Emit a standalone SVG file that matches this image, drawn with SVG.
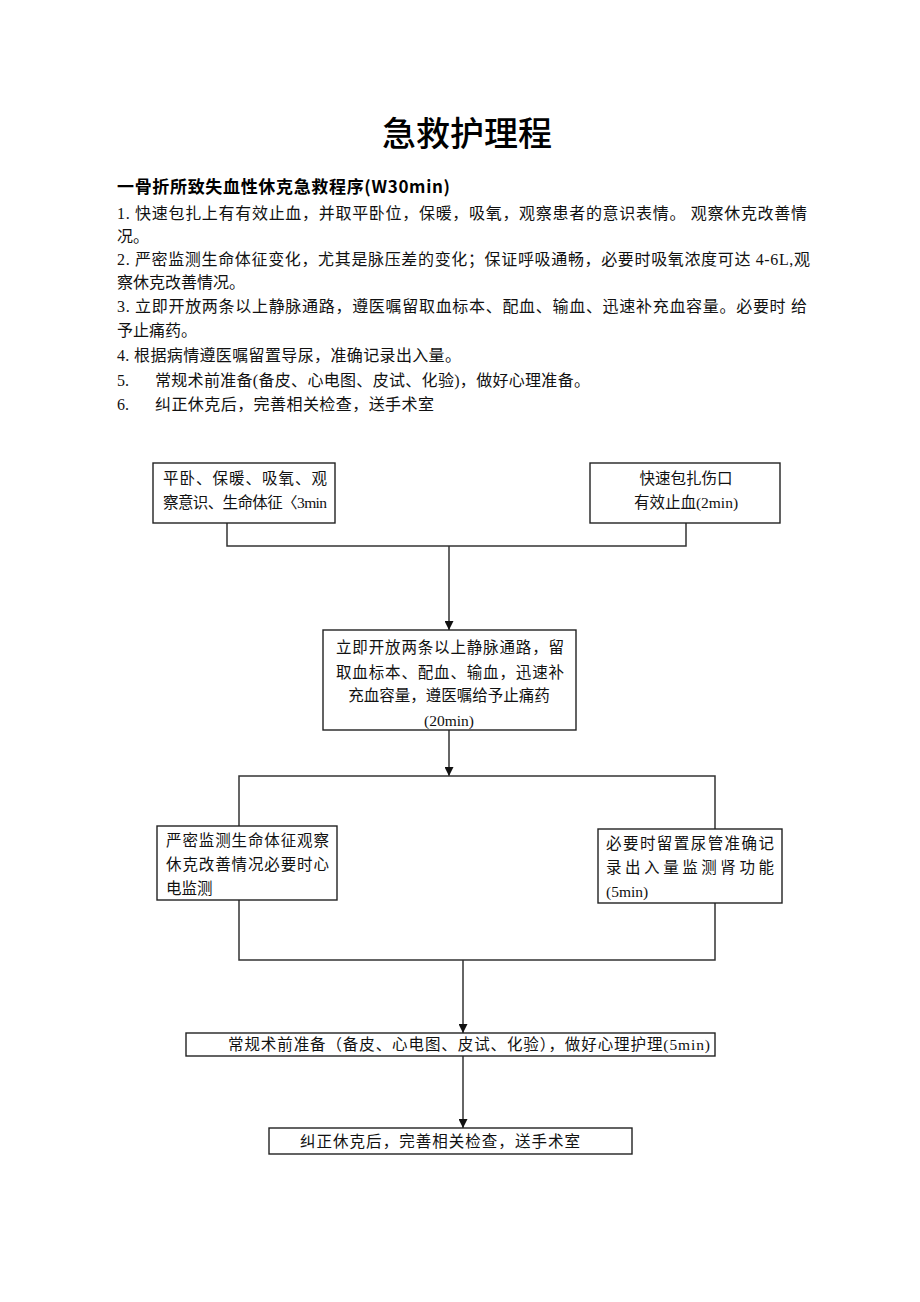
<svg xmlns="http://www.w3.org/2000/svg" width="920" height="1302" viewBox="0 0 920 1302">
<defs>
<style>
.t{font-family:"Liberation Serif","Noto Sans CJK SC",serif;font-size:16px;fill:#111}
.b{font-family:"Liberation Serif","Noto Sans CJK SC",serif;font-size:15.5px;fill:#111}
.box{fill:#fff;stroke:#222;stroke-width:1.4}
.ln{fill:none;stroke:#333;stroke-width:1.5}
</style>
<marker id="ah" viewBox="0 0 10 10" refX="10" refY="5" markerWidth="9" markerHeight="9" markerUnits="userSpaceOnUse" orient="auto">
<path d="M0,0 L10,5 L0,10 z" fill="#111"/>
</marker>
</defs>
<rect width="920" height="1302" fill="#fff"/>
<text x="467" y="146" text-anchor="middle" style="font-family:'Noto Sans CJK SC',sans-serif;font-size:34px;font-weight:500" fill="#000">急救护理程</text>
<text x="117" y="193" textLength="333" style="font-family:'Noto Sans CJK SC',sans-serif;font-size:17px;font-weight:bold" fill="#000">一骨折所致失血性休克急救程序(W30min)</text>
<g id="body">
<text class="t" x="117" y="219" textLength="690">1. 快速包扎上有有效止血，并取平卧位，保暖，吸氧，观察患者的意识表情。 观察休克改善情</text>
<text class="t" x="117" y="242">况。</text>
<text class="t" x="117" y="265" textLength="693">2. 严密监测生命体征变化，尤其是脉压差的变化；保证呼吸通畅，必要时吸氧浓度可达 4-6L,观</text>
<text class="t" x="117" y="288">察休克改善情况。</text>
<text class="t" x="117" y="312" textLength="690">3. 立即开放两条以上静脉通路，遵医嘱留取血标本、配血、输血、迅速补充血容量。必要时 给</text>
<text class="t" x="117" y="336">予止痛药。</text>
<text class="t" x="117" y="361" textLength="344">4. 根据病情遵医嘱留置导尿，准确记录出入量。</text>
<text class="t" x="117" y="386">5.</text>
<text class="t" x="155" y="386" textLength="435">常规术前准备(备皮、心电图、皮试、化验)，做好心理准备。</text>
<text class="t" x="117" y="410">6.</text>
<text class="t" x="155" y="410" textLength="279">纠正休克后，完善相关检查，送手术室</text>
</g>
<g id="connectors">
<polyline class="ln" points="227,523 227,546 686,546 686,523"/>
<line class="ln" x1="449" y1="546" x2="449" y2="630" marker-end="url(#ah)"/>
<line class="ln" x1="449" y1="730" x2="449" y2="776" marker-end="url(#ah)"/>
<polyline class="ln" points="239,826 239,776 715,776 715,829"/>
<polyline class="ln" points="239,900 239,960 715,960 715,903"/>
<line class="ln" x1="463" y1="960" x2="463" y2="1033" marker-end="url(#ah)"/>
<line class="ln" x1="463" y1="1056" x2="463" y2="1128" marker-end="url(#ah)"/>
</g>
<g id="n1">
<rect class="box" x="153" y="463" width="182" height="60"/>
<text class="b" x="163" y="484" textLength="164">平卧、保暖、吸氧、观</text>
<text class="b" x="163" y="508" textLength="164">察意识、生命体征〈3min</text>
</g>
<g id="n2">
<rect class="box" x="590" y="463" width="190" height="60"/>
<text class="b" x="686" y="484" text-anchor="middle">快速包扎伤口</text>
<text class="b" x="686" y="508" text-anchor="middle">有效止血(2min)</text>
</g>
<g id="n3">
<rect class="box" x="323" y="630" width="253" height="100"/>
<text class="b" x="336" y="653" textLength="228">立即开放两条以上静脉通路，留</text>
<text class="b" x="336" y="678" textLength="228">取血标本、配血、输血，迅速补</text>
<text class="b" x="449" y="701" text-anchor="middle">充血容量，遵医嘱给予止痛药</text>
<text class="b" x="449" y="726" text-anchor="middle">(20min)</text>
</g>
<g id="n4">
<rect class="box" x="157" y="826" width="180" height="74"/>
<text class="b" x="166" y="846" textLength="163">严密监测生命体征观察</text>
<text class="b" x="166" y="870" textLength="163">休克改善情况必要时心</text>
<text class="b" x="166" y="894">电监测</text>
</g>
<g id="n5">
<rect class="box" x="598" y="829" width="184" height="74"/>
<text class="b" x="606" y="849" textLength="168">必要时留置尿管准确记</text>
<text class="b" x="606" y="873" textLength="168">录出入量监测肾功能</text>
<text class="b" x="606" y="897">(5min)</text>
</g>
<g id="n6">
<rect class="box" x="186" y="1033" width="529" height="23"/>
<text class="b" x="228" y="1050" textLength="482">常规术前准备（备皮、心电图、皮试、化验），做好心理护理(5min)</text>
</g>
<g id="n7">
<rect class="box" x="269" y="1128" width="363" height="26"/>
<text class="b" x="300" y="1147" textLength="280">纠正休克后，完善相关检查，送手术室</text>
</g>
</svg>
